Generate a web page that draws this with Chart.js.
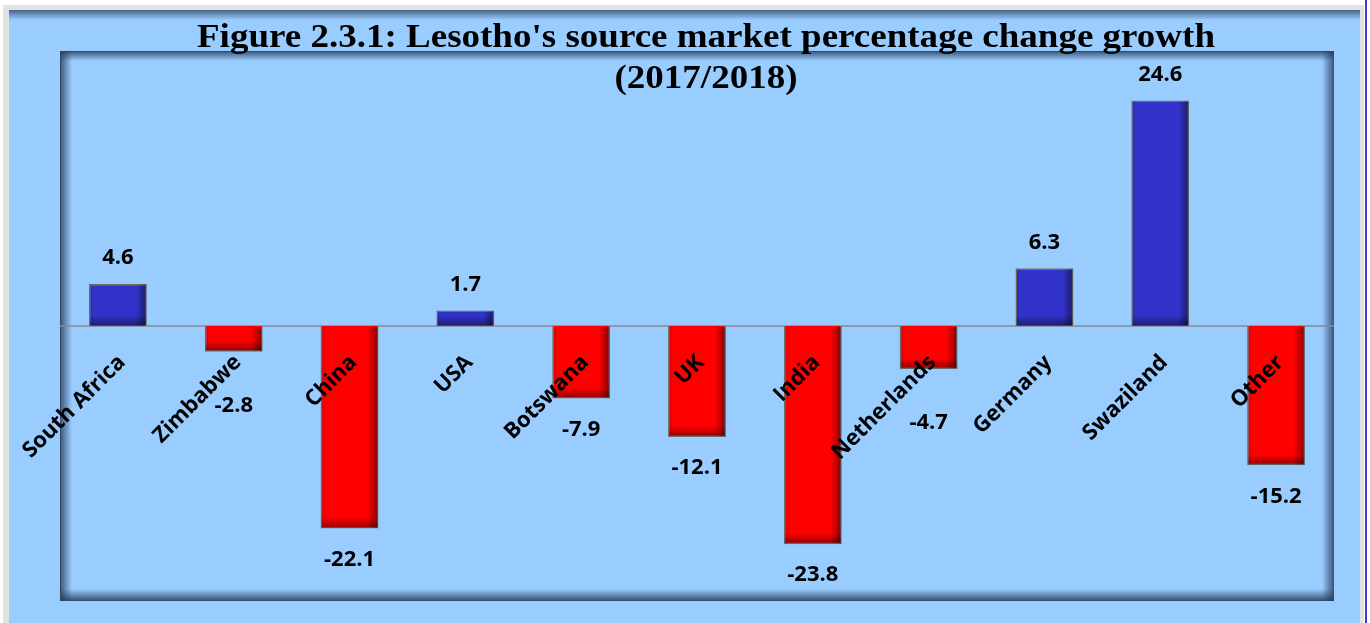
<!DOCTYPE html>
<html>
<head>
<meta charset="utf-8">
<script src="https://cdn.jsdelivr.net/npm/chart.js@4.4.1/dist/chart.umd.min.js"></script>
<style>
  body { margin: 0; background: #ffffff; }
  #wrap { width: 1370px; height: 623px; }
</style>
</head>
<body>
<div id="wrap"><canvas id="marketChart" width="1370" height="623"></canvas></div>
<script>
const titleLines = ["Figure 2.3.1: Lesotho's source market percentage change growth", "(2017/2018)"];
const categories = ["South Africa", "Zimbabwe", "China", "USA", "Botswana", "UK", "India", "Netherlands", "Germany", "Swaziland", "Other"];
const changes = [4.6, -2.8, -22.1, 1.7, -7.9, -12.1, -23.8, -4.7, 6.3, 24.6, -15.2];
const yRange = [-30, 30];

const upColor = "#3333cc";
const downColor = "#ff0000";

function edgeShade(ctx, x0, y0, x1, y1, rx, ry, rw, rh, alpha) {
    let g = ctx.createLinearGradient(x0, y0, x1, y1);
    g.addColorStop(0, "rgba(35,55,85," + alpha + ")");
    g.addColorStop(1, "rgba(35,55,85,0)");
    ctx.fillStyle = g;
    ctx.fillRect(rx, ry, rw, rh);
}

// background panels and the sunken plot frame
const framePlugin = {
    id: "frame",
    beforeDraw(chart) {
        let ctx = chart.ctx;
        let W = chart.width, H = chart.height;
        let a = chart.chartArea;
        ctx.save();
        ctx.fillStyle = "#ffffff";
        ctx.fillRect(0, 0, W, H);
        ctx.fillStyle = "#e2e2e2";
        ctx.fillRect(3, 5, 1361, H - 5);
        ctx.fillStyle = "#99ccff";
        ctx.fillRect(9, 10, 1351, H - 10);
        ctx.fillStyle = "#3b3bd6";
        ctx.fillRect(1365, 0, 2, H);
        edgeShade(ctx, 0, 10, 0, 20, 9, 10, 1351, 10, 0.7);

        // inner frame
        let w = a.right - a.left, h = a.bottom - a.top;
        edgeShade(ctx, 0, a.top, 0, a.top + 10, a.left, a.top, w, 10, 0.8);
        edgeShade(ctx, a.left, 0, a.left + 12, 0, a.left, a.top, 12, h, 0.8);
        edgeShade(ctx, a.right, 0, a.right - 12, 0, a.right - 12, a.top, 12, h, 0.8);
        edgeShade(ctx, 0, a.bottom, 0, a.bottom - 12, a.left, a.bottom - 12, w, 12, 0.85);
        ctx.fillStyle = "rgba(50,70,100,0.9)";
        ctx.fillRect(a.left, a.top, w, 1);
        ctx.fillRect(a.left, a.top, 1, h);
        ctx.restore();
    },
    beforeDatasetsDraw(chart) {
        let ctx = chart.ctx;
        let a = chart.chartArea;
        let zeroY = chart.scales.y.getPixelForValue(0);
        ctx.save();
        ctx.strokeStyle = "#8a8a8a";
        ctx.lineWidth = 1.5;
        ctx.beginPath();
        ctx.moveTo(a.left, zeroY);
        ctx.lineTo(a.right, zeroY);
        ctx.stroke();
        ctx.restore();
    }
};

// inner shading on every bar
const barShadePlugin = {
    id: "barShade",
    afterDatasetsDraw(chart) {
        let ctx = chart.ctx;
        let meta = chart.getDatasetMeta(0);
        ctx.save();
        meta.data.forEach(bar => {
            let p = bar.getProps(["x", "y", "base", "width"], true);
            let left = p.x - p.width / 2 + 1;
            let right = p.x + p.width / 2 - 1;
            let top = Math.min(p.y, p.base) + 1;
            let bottom = Math.max(p.y, p.base) - 1;
            let bw = right - left, bh = bottom - top;
            let g = ctx.createLinearGradient(right, 0, right - 10, 0);
            g.addColorStop(0, "rgba(0,0,0,0.45)");
            g.addColorStop(1, "rgba(0,0,0,0)");
            ctx.fillStyle = g;
            ctx.fillRect(right - 10, top, 10, bh);
            let dh = Math.min(10, bh);
            g = ctx.createLinearGradient(0, bottom, 0, bottom - dh);
            g.addColorStop(0, "rgba(0,0,0,0.4)");
            g.addColorStop(1, "rgba(0,0,0,0)");
            ctx.fillStyle = g;
            ctx.fillRect(left, bottom - dh, bw, dh);
            g = ctx.createLinearGradient(left, 0, left + 4, 0);
            g.addColorStop(0, "rgba(0,0,0,0.15)");
            g.addColorStop(1, "rgba(0,0,0,0)");
            ctx.fillStyle = g;
            ctx.fillRect(left, top, 4, bh);
        });
        ctx.restore();
    }
};

// category names, value labels and title
const labelPlugin = {
    id: "labels",
    afterDraw(chart) {
        let ctx = chart.ctx;
        let xs = chart.scales.x, ys = chart.scales.y;
        let zeroY = ys.getPixelForValue(0);
        let meta = chart.getDatasetMeta(0);
        ctx.save();
        ctx.fillStyle = "#000000";

        ctx.font = "bold 22px 'Open Sans'";
        ctx.textAlign = "center";
        ctx.textBaseline = "middle";
        meta.data.forEach((bar, i) => {
            let v = changes[i];
            let y;
            if (v >= 0) {
                y = bar.y - 26;
            } else {
                let len = bar.y - zeroY;
                y = bar.y + (len < 60 ? 54 : 31);
            }
            ctx.fillText(v.toFixed(1), bar.x, y);
        });

        ctx.font = "bold 22px 'Open Sans'";
        ctx.textAlign = "right";
        categories.forEach((name, i) => {
            let x = xs.getPixelForValue(i);
            ctx.save();
            ctx.translate(x + 4, zeroY + 33);
            ctx.rotate(-Math.PI / 4);
            ctx.fillText(name, 0, 0);
            ctx.restore();
        });

        // title, stretched a little to the width of the original serif face
        ctx.font = "bold 34px 'Liberation Serif'";
        ctx.textAlign = "center";
        ctx.textBaseline = "alphabetic";
        let sx = 1018 / ctx.measureText(titleLines[0]).width;
        ctx.save();
        ctx.translate(706, 0);
        ctx.scale(sx, 1);
        ctx.fillText(titleLines[0], 0, 47);
        ctx.fillText(titleLines[1], 0, 88);
        ctx.restore();
        ctx.restore();
    }
};

let ctx = document.getElementById("marketChart").getContext("2d");
let myChart = new Chart(ctx, {
    type: "bar",
    data: {
        labels: categories,
        datasets: [{
            label: "% change",
            data: changes,
            backgroundColor: changes.map(v => v >= 0 ? upColor : downColor),
            borderColor: "#6e6e6e",
            borderWidth: 1.5,
            categoryPercentage: 1,
            barPercentage: 0.5
        }]
    },
    options: {
        responsive: false,
        animation: false,
        layout: { padding: { left: 60, right: 36, top: 51, bottom: 22 } },
        plugins: {
            legend: { display: false },
            tooltip: { enabled: false },
            title: { display: false }
        },
        scales: {
            x: { display: false },
            y: { display: false, min: yRange[0], max: yRange[1] }
        }
    },
    plugins: [framePlugin, barShadePlugin, labelPlugin]
});
</script>
</body>
</html>
